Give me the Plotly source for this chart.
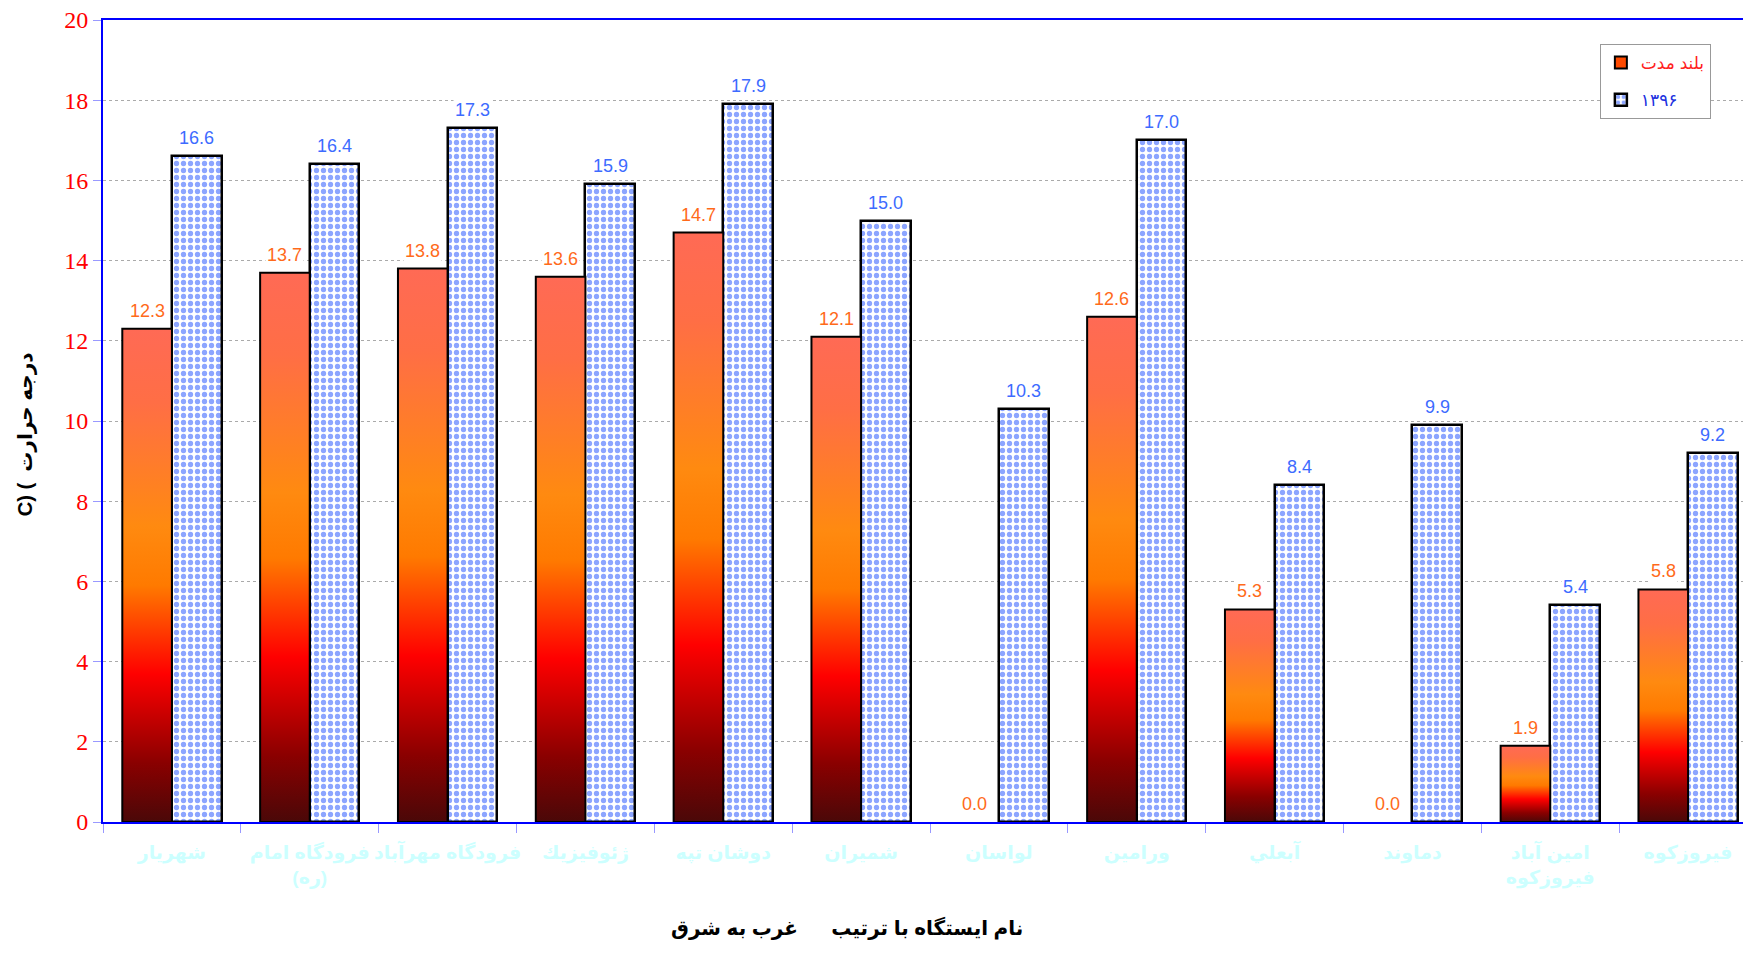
import plotly.graph_objects as go

categories = ["شهريار", "فرودگاه امام<br>(ره)", "فرودگاه مهرآباد", "ژئوفيزيك", "دوشان تپه",
              "شميران", "لواسان", "ورامين", "آبعلي", "دماوند", "امين آباد<br>فيروزكوه", "فيروزكوه"]
long_term = [12.3, 13.7, 13.8, 13.6, 14.7, 12.1, 0.0, 12.6, 5.3, 0.0, 1.9, 5.8]
year_1396 = [16.6, 16.4, 17.3, 15.9, 17.9, 15.0, 10.3, 17.0, 8.4, 9.9, 5.4, 9.2]
y_ticks = [0, 2, 4, 6, 8, 10, 12, 14, 16, 18, 20]

name_long = "بلند مدت"
name_year = "۱۳۹۶"

BW = 0.36
fig = go.Figure()

grad = [[0.0, "#4a0808"], [0.12, "#8a0000"], [0.3, "#ff0000"], [0.48, "#ff7a00"],
        [0.6, "#ff8a10"], [0.85, "#ff6e45"], [1.0, "#ff6a55"]]

for i, v in enumerate(long_term):
    if v <= 0:
        continue
    fig.add_trace(go.Scatter(
        x=[i - BW, i - BW, i, i, i - BW], y=[0, v, v, 0, 0],
        mode="lines", fill="toself",
        fillgradient=dict(type="vertical", colorscale=grad, start=0, stop=v),
        line=dict(color="black", width=2),
        legendgroup="lt", showlegend=False, hoverinfo="skip"))

# legend entry for the long-term series
fig.add_trace(go.Bar(
    x=[None], y=[None], name='<span style="color:#ff2020">' + name_long + '</span>',
    legendgroup="lt", marker=dict(color="#ff4a00", line=dict(color="black", width=2))))

fig.add_trace(go.Bar(
    x=[i + BW / 2 for i in range(len(year_1396))], y=year_1396, width=BW,
    name='<span style="color:#2030e0">' + name_year + '</span>',
    marker=dict(color="white",
                pattern=dict(shape=".", fgcolor="#1a4cff", bgcolor="white", size=7, solidity=0.45),
                line=dict(color="black", width=2.5))))

ann = []
for i, v in enumerate(long_term):
    ann.append(dict(x=i - BW / 2, y=v, text=f"{v:.1f}", showarrow=False, yanchor="bottom", yshift=6,
                    bgcolor="white", font=dict(color="#ff6a1a", size=18, family="Arial, Liberation Sans")))
for i, v in enumerate(year_1396):
    ann.append(dict(x=i + BW / 2, y=v, text=f"{v:.1f}", showarrow=False, yanchor="bottom", yshift=6,
                    bgcolor="white", font=dict(color="#3d6bff", size=18, family="Arial, Liberation Sans")))
ann.append(dict(xref="paper", yref="paper", x=0.45, y=-0.15, text="نام ایستگاه با ترتیب      غرب به شرق",
                showarrow=False, font=dict(size=20, color="black", family="Arial, DejaVu Sans", weight="bold")))
ann.append(dict(xref="paper", yref="paper", x=-0.055, y=0.483, text="C) (  درجه حرارت", textangle=-90,
                showarrow=False, font=dict(size=20, color="black", family="Arial, DejaVu Sans", weight="bold")))

fig.update_layout(
    width=1751, height=954,
    margin=dict(l=95, r=2, t=12, b=140),
    plot_bgcolor="white", paper_bgcolor="white",
    barmode="overlay", bargap=0,
    annotations=ann,
    legend=dict(x=0.905, y=0.97, xanchor="left", yanchor="top", bgcolor="white",
                bordercolor="#999999", borderwidth=1,
                font=dict(size=17, family="Arial, DejaVu Sans"), tracegroupgap=12),
    xaxis=dict(range=[-0.5, 11.5], tickmode="array", tickvals=list(range(len(categories))),
               ticktext=categories, ticks="", showgrid=False, zeroline=False, automargin=False,
               showline=True, linecolor="#0000ff", linewidth=2, mirror=True,
               tickfont=dict(size=19, color="#ccffff", family="Arial, DejaVu Sans", weight="bold"),
               ticklabelstandoff=12,
               minor=dict(tickmode="linear", tick0=-0.5, dtick=1, ticks="outside", ticklen=9,
                          tickcolor="#9999ff", tickwidth=1, showgrid=False)),
    yaxis=dict(range=[0, 20], tickvals=y_ticks, ticks="outside", ticklen=8, tickcolor="#9999ff",
               showgrid=True, gridcolor="#aaaaaa", griddash="dot", gridwidth=1, automargin=False,
               zeroline=False, showline=True, linecolor="#0000ff", linewidth=2, mirror=True,
               ticklabeloverflow="allow",
               tickfont=dict(size=24, color="#ff0000", family="Times New Roman, Liberation Serif")),
    showlegend=True,
)

fig.write_html("out.html")
